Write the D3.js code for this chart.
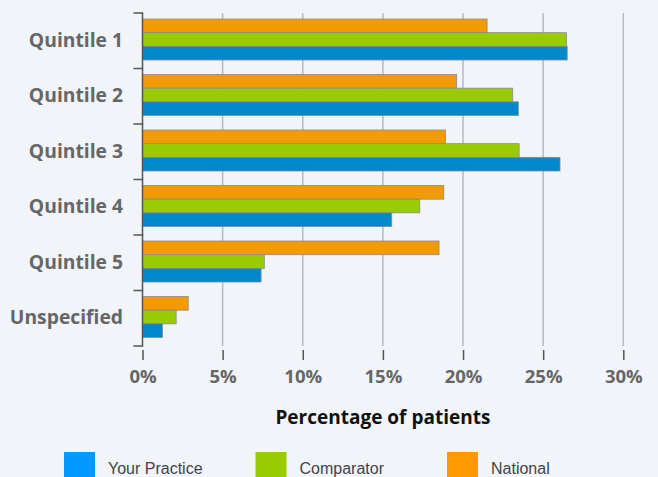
<!DOCTYPE html>
<html>
<head>
<meta charset="utf-8">
<script src="https://cdn.jsdelivr.net/npm/d3@7"></script>
<style>
  body { margin: 0; background: #f1f4f9; }
  svg { display: block; }
</style>
</head>
<body>
<svg width="658" height="477"></svg>
<script>
var categories = ["Quintile 1", "Quintile 2", "Quintile 3", "Quintile 4", "Quintile 5", "Unspecified"];
var seriesNames = ["National", "Comparator", "Your Practice"];
var national = [21.5, 19.6, 18.9, 18.8, 18.5, 2.85];
var comparator = [26.45, 23.1, 23.5, 17.3, 7.6, 2.1];
var yourPractice = [26.5, 23.45, 26.05, 15.55, 7.4, 1.25];
var xTicks = [0, 5, 10, 15, 20, 25, 30];
var legendNames = ["Your Practice", "Comparator", "National"];

var barColors = { "National": "#f29b00", "Comparator": "#99cc00", "Your Practice": "#0088cc" };
var legendColors = { "Your Practice": "#0099ff", "Comparator": "#99cc00", "National": "#ff9900" };

var values = { "National": national, "Comparator": comparator, "Your Practice": yourPractice };

var svg = d3.select("svg");

var plotLeft = 142.5, plotRight = 623.3, plotTop = 13, plotBottom = 346;

// x scale in percent
var xScale = d3.scaleLinear()
	.domain([0, 30])
	.range([plotLeft, plotRight]);

// one band per category
var yScale = d3.scaleBand()
	.domain(categories)
	.range([plotTop, plotBottom]);

// the three bars inside a band
var ySub = d3.scaleBand()
	.domain(seriesNames)
	.range([6, 47]);

// vertical grid lines
svg.append("g")
	.selectAll("line")
	.data(xTicks.slice(1))
	.enter().append("line")
	.attr("x1", d => xScale(d))
	.attr("x2", d => xScale(d))
	.attr("y1", plotTop)
	.attr("y2", plotBottom)
	.attr("stroke", "#b7b9bd")
	.attr("stroke-width", 1.5);

// bars
var groups = svg.append("g")
	.selectAll("g")
	.data(categories)
	.enter().append("g")
	.attr("transform", d => "translate(0," + yScale(d) + ")");

groups.selectAll("rect")
	.data((d, i) => seriesNames.map(s => ({ series: s, value: values[s][i] })))
	.enter().append("rect")
	.attr("x", xScale(0))
	.attr("y", d => ySub(d.series))
	.attr("width", d => xScale(d.value) - xScale(0))
	.attr("height", ySub.bandwidth())
	.attr("fill", d => barColors[d.series])
	.attr("stroke", "#8a8a8a")
	.attr("stroke-width", 0.8);

// left axis with ticks at band edges
var leftAxis = svg.append("g");
leftAxis.append("line")
	.attr("x1", plotLeft).attr("x2", plotLeft)
	.attr("y1", plotTop).attr("y2", plotBottom)
	.attr("stroke", "#555").attr("stroke-width", 1.5);
leftAxis.selectAll("line.tick")
	.data(categories.map(c => yScale(c)).concat([plotBottom]))
	.enter().append("line")
	.attr("class", "tick")
	.attr("x1", plotLeft - 9).attr("x2", plotLeft + 0.75)
	.attr("y1", d => d).attr("y2", d => d)
	.attr("stroke", "#555").attr("stroke-width", 1.5);

// category labels
svg.append("g")
	.selectAll("text")
	.data(categories)
	.enter().append("text")
	.attr("x", 123)
	.attr("y", d => yScale(d) + yScale.bandwidth() / 2 + 1)
	.attr("text-anchor", "end")
	.attr("dominant-baseline", "middle")
	.attr("font-family", "Open Sans")
	.attr("font-weight", 700)
	.attr("font-size", 19.3)
	.attr("fill", "#666")
	.text(d => d);

// bottom axis: ticks only, no line
var xAxis = d3.axisBottom(xScale)
	.tickValues(xTicks)
	.tickSize(10)
	.tickPadding(10)
	.tickFormat(d => d + "%");

var xg = svg.append("g")
	.attr("transform", "translate(0,350)")
	.call(xAxis);
xg.select(".domain").remove();
xg.selectAll(".tick line").attr("stroke", "#555").attr("stroke-width", 1.5);
xg.selectAll(".tick text")
	.attr("font-family", "Open Sans")
	.attr("font-weight", 700)
	.attr("font-size", 18.5)
	.attr("fill", "#666");

// axis title
svg.append("text")
	.attr("x", (plotLeft + plotRight) / 2)
	.attr("y", 424)
	.attr("text-anchor", "middle")
	.attr("font-family", "Open Sans")
	.attr("font-weight", 700)
	.attr("font-size", 19)
	.attr("fill", "#111")
	.text("Percentage of patients");

// legend
var legendX = d3.scalePoint()
	.domain(legendNames)
	.range([64, 447]);

var legend = svg.append("g")
	.selectAll("g")
	.data(legendNames)
	.enter().append("g")
	.attr("transform", d => "translate(" + legendX(d) + ",452)");
legend.append("rect")
	.attr("width", 31)
	.attr("height", 31)
	.attr("fill", d => legendColors[d]);
legend.append("text")
	.attr("x", 44)
	.attr("y", 22)
	.attr("font-family", "Liberation Sans, Arial, sans-serif")
	.attr("font-size", 16)
	.attr("fill", "#444")
	.text(d => d);
</script>
</body>
</html>
